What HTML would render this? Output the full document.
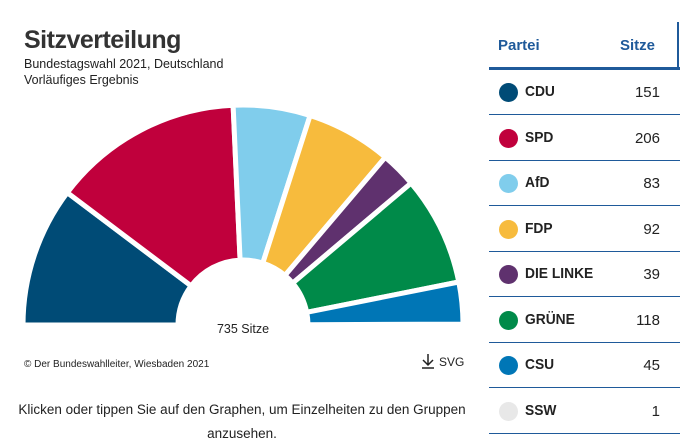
<!DOCTYPE html>
<html><head><meta charset="utf-8"><style>
*{margin:0;padding:0}
body{width:681px;height:447px;background:#fff;font-family:"Liberation Sans",sans-serif;color:#222;position:relative;overflow:hidden}
.a{position:absolute;white-space:nowrap}
.row{position:absolute;left:489px;width:191px;height:45px;border-bottom:1.5px solid #1f5a9a}
.dot{position:absolute;left:10px;top:14px;width:19px;height:19px;border-radius:50%}
.nm{position:absolute;left:36px;top:14px;font-weight:bold;font-size:15px;color:#222;transform:scaleX(.92);transform-origin:left}
.nu{position:absolute;right:20px;top:15px;font-size:15px;color:#222}
</style></head><body>
<div class="a" style="left:24px;top:26px;font-size:25px;font-weight:bold;color:#333;letter-spacing:-0.5px">Sitzverteilung</div>
<div class="a" style="left:24px;top:57px;font-size:12.5px;color:#222">Bundestagswahl 2021, Deutschland</div>
<div class="a" style="left:24px;top:73px;font-size:12.5px;color:#222">Vorläufiges Ergebnis</div>
<svg class="a" style="left:0;top:0" width="480" height="380">
<g stroke="#fff" stroke-width="5" stroke-linejoin="miter">
<path fill="#004b76" d="M23,325 A220,220 0 0 1 67.3,192.6 L191.1,285.9 A65,65 0 0 0 178,325Z"/>
<path fill="#c0003c" d="M67.3,192.6 A220,220 0 0 1 233.1,105.2 L240.1,260.1 A65,65 0 0 0 191.1,285.9Z"/>
<path fill="#80cdec" d="M233.1,105.2 A220,220 0 0 1 310.1,115.5 L262.8,263.1 A65,65 0 0 0 240.1,260.1Z"/>
<path fill="#f7bb3d" d="M310.1,115.5 A220,220 0 0 1 385.3,157.2 L285,275.4 A65,65 0 0 0 262.8,263.1Z"/>
<path fill="#5f316e" d="M385.3,157.2 A220,220 0 0 1 411.1,183.1 L292.7,283.1 A65,65 0 0 0 285,275.4Z"/>
<path fill="#008a49" d="M411.1,183.1 A220,220 0 0 1 458.8,282 L306.7,312.3 A65,65 0 0 0 292.7,283.1Z"/>
<path fill="#0076b6" d="M458.8,282 A220,220 0 0 1 463,324.1 L308,324.7 A65,65 0 0 0 306.7,312.3Z"/>
</g>
<text x="243" y="333" font-size="12.5" text-anchor="middle" fill="#222" font-family="Liberation Sans">735 Sitze</text>
<path d="M428,354 v11 M423,360 l5,5 5,-5 M422,368 h12" stroke="#222" stroke-width="1.5" fill="none"/>
</svg>
<div class="a" style="left:24px;top:359px;font-size:10px;color:#222">© Der Bundeswahlleiter, Wiesbaden 2021</div>
<div class="a" style="left:439px;top:355px;font-size:12px;color:#222">SVG</div>
<div class="a" style="left:0;width:484px;top:398px;font-size:13.5px;text-align:center;line-height:24px;white-space:normal;color:#222">Klicken oder tippen Sie auf den Graphen, um Einzelheiten zu den Gruppen<br>anzusehen.</div>
<div class="a" style="left:498px;top:37px;font-size:15px;font-weight:bold;color:#1f5a9a">Partei</div>
<div class="a" style="left:620px;top:37px;font-size:15px;font-weight:bold;color:#1f5a9a">Sitze</div>
<div class="a" style="left:677px;top:22px;width:1.5px;height:46px;background:#1f5a9a"></div>
<div class="a" style="left:489px;top:67px;width:191px;height:2.5px;background:#1f5a9a"></div>
<div class="row" style="top:69px"><div class="dot" style="background:#004b76"></div><div class="nm">CDU</div><div class="nu">151</div></div>
<div class="row" style="top:115px"><div class="dot" style="background:#c0003c"></div><div class="nm">SPD</div><div class="nu">206</div></div>
<div class="row" style="top:160px"><div class="dot" style="background:#80cdec"></div><div class="nm">AfD</div><div class="nu">83</div></div>
<div class="row" style="top:206px"><div class="dot" style="background:#f7bb3d"></div><div class="nm">FDP</div><div class="nu">92</div></div>
<div class="row" style="top:251px"><div class="dot" style="background:#5f316e"></div><div class="nm">DIE LINKE</div><div class="nu">39</div></div>
<div class="row" style="top:297px"><div class="dot" style="background:#008a49"></div><div class="nm">GRÜNE</div><div class="nu">118</div></div>
<div class="row" style="top:342px"><div class="dot" style="background:#0076b6"></div><div class="nm">CSU</div><div class="nu">45</div></div>
<div class="row" style="top:388px"><div class="dot" style="background:#e8e8e8"></div><div class="nm">SSW</div><div class="nu">1</div></div>
</body></html>
